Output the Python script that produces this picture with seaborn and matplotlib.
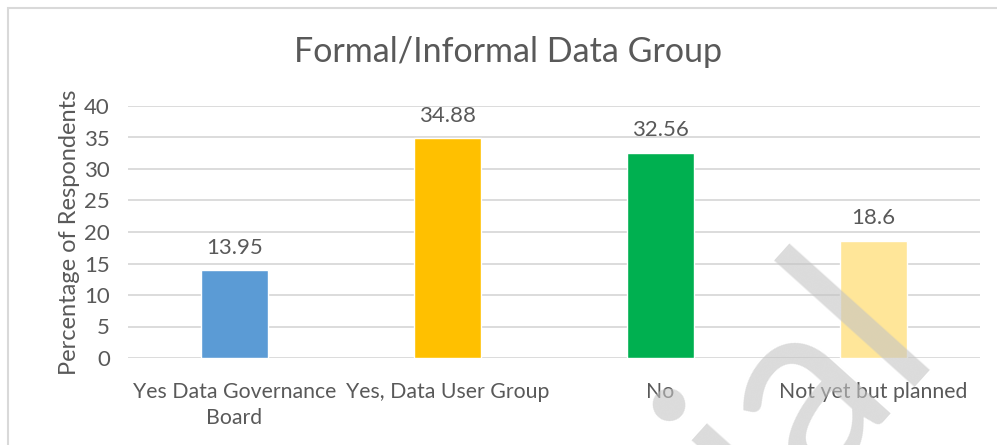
import matplotlib
matplotlib.use("Agg")
import matplotlib.pyplot as plt
import seaborn as sns
import pandas as pd
from matplotlib.patches import Rectangle

# Survey responses: existence of a formal/informal data group
categories = ["Yes Data Governance\nBoard", "Yes, Data User Group", "No", "Not yet but planned"]
percentages = [13.95, 34.88, 32.56, 18.6]
value_labels = ["13.95", "34.88", "32.56", "18.6"]
bar_colors = ["#5B9BD5", "#FFC000", "#00B050", "#FFE699"]
y_ticks = [0, 5, 10, 15, 20, 25, 30, 35, 40]

sns.set_theme(style="white")
plt.rcParams["font.family"] = ["Lato", "DejaVu Sans"]

text_color = "#595959"
grid_color = "#d9d9d9"

df = pd.DataFrame({"category": categories, "pct": percentages})

fig = plt.figure(figsize=(9.97, 4.45), dpi=100)
ax = fig.add_axes([128 / 997, (445 - 358) / 445, (980 - 128) / 997, (358 - 106) / 445])

sns.barplot(data=df, x="category", y="pct", hue="category", palette=bar_colors,
            width=0.315, legend=False, ax=ax, zorder=3, saturation=1)

ax.set_ylim(0, 40)
ax.set_xlim(-0.5, 3.5)
ax.set_yticks(y_ticks)
ax.set_yticklabels([str(t) for t in y_ticks])
ax.yaxis.grid(True, color=grid_color, linewidth=1.3, zorder=0)
ax.set_axisbelow(True)
for s in ax.spines.values():
    s.set_visible(False)
ax.tick_params(axis="y", length=0, labelsize=16, colors=text_color, pad=13)
ax.tick_params(axis="x", length=0, labelsize=15.3, colors=text_color, pad=17)
for lbl in ax.get_xticklabels():
    lbl.set_linespacing(1.4)
ax.set_xlabel("")
ax.set_ylabel("Percentage of Respondents", fontsize=17, color=text_color, labelpad=3)

for i, (v, lab) in enumerate(zip(percentages, value_labels)):
    ax.annotate(lab, xy=(i, v), xytext=(0, 9), textcoords="offset points",
                ha="center", va="bottom", fontsize=16, color=text_color)

fig.text(508 / 997, 1 - 52 / 445, "Formal/Informal Data Group", ha="center", va="center",
         fontsize=24.5, color=text_color)

# chart area border
fig.patches.append(Rectangle((8 / 997, -0.1), 1.2, 1 - 8 / 445 + 0.1, transform=fig.transFigure,
                             fill=False, edgecolor=grid_color, linewidth=1.5))

# watermark
fig.text(942 / 997, 1 - 353 / 445, "Trial", rotation=48, rotation_mode="anchor",
         ha="right", va="baseline", fontsize=185,
         color="#c4c4c4", alpha=0.6, zorder=10)

fig.savefig("out.png", dpi=100)
